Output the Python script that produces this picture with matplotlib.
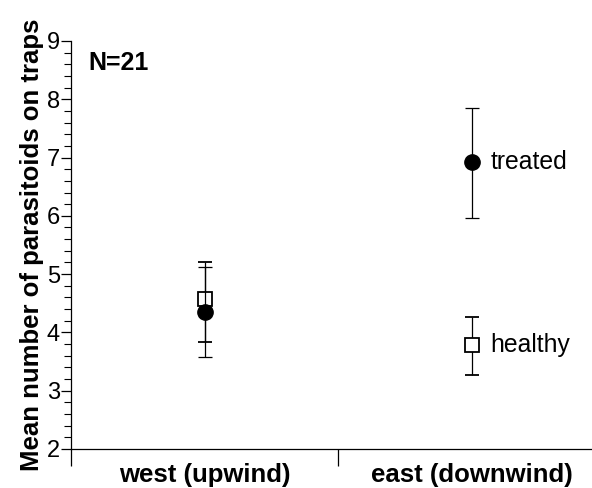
import matplotlib
matplotlib.use("Agg")
import matplotlib.pyplot as plt
from matplotlib.ticker import MultipleLocator

plt.rcParams['font.family'] = ['Liberation Sans', 'DejaVu Sans']

# data
sites = ["west (upwind)", "east (downwind)"]
treated_mean = [4.35, 6.93]
treated_upper = [5.13, 7.85]
treated_lower = [3.57, 5.97]
healthy_mean = [4.57, 3.78]
healthy_upper = [5.21, 4.27]
healthy_lower = [3.84, 3.27]
n_label = "N=21"

fig = plt.figure(figsize=(5.92, 4.88), dpi=100)
ax = fig.add_axes([0.12, 0.08, 0.902, 0.836])

xs = list(range(len(sites)))

def err(mean, lo, hi):
    return [[m - l for m, l in zip(mean, lo)], [h - m for m, h in zip(mean, hi)]]

ax.errorbar(xs, healthy_mean, yerr=err(healthy_mean, healthy_lower, healthy_upper),
            fmt='s', ms=9.5, mfc='white', mec='black', mew=1.3, ecolor='black',
            elinewidth=0.9, capsize=5, capthick=0.9, zorder=3)
ax.errorbar(xs, treated_mean, yerr=err(treated_mean, treated_lower, treated_upper),
            fmt='o', ms=11, mfc='black', mec='black', ecolor='black',
            elinewidth=0.9, capsize=5, capthick=0.9, zorder=4)

ax.text(xs[1] + 0.07, treated_mean[1], "treated", fontsize=17.8, va='center', ha='left')
ax.text(xs[1] + 0.07, healthy_mean[1], "healthy", fontsize=17.8, va='center', ha='left')
ax.text(0.032, 0.946, n_label, transform=ax.transAxes, fontsize=18, fontweight='bold',
        va='center', ha='left')

ax.set_xlim(-0.5, 1.5)
ax.set_ylim(2, 9)
ax.spines['top'].set_visible(False)
ax.spines['right'].set_visible(False)
for s in ('left', 'bottom'):
    ax.spines[s].set_linewidth(0.9)

ax.yaxis.set_major_locator(MultipleLocator(1))
ax.yaxis.set_minor_locator(MultipleLocator(0.2))
ax.tick_params(axis='y', which='major', length=7, width=0.9, labelsize=17, pad=1)
ax.tick_params(axis='y', which='minor', length=5, width=0.8)

ax.set_xticks(xs)
ax.set_xticklabels(sites, fontsize=18.5, fontweight='bold')
ax.set_xticks([-0.5, 0.5], minor=True)
ax.tick_params(axis='x', which='major', length=0, pad=10)
ax.tick_params(axis='x', which='minor', length=12, width=0.9)

ax.set_ylabel("Mean number of parasitoids on traps", fontsize=18.5, fontweight='bold',
              labelpad=2)

fig.savefig("out.png", dpi=100)
